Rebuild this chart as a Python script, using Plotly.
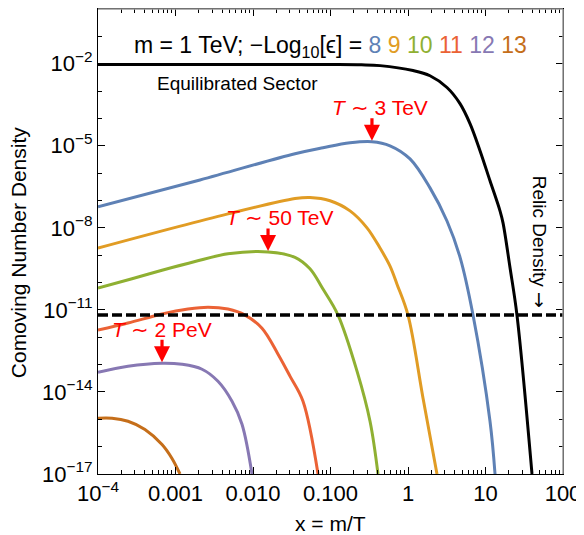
import numpy as np
import plotly.graph_objects as go

# ---- data (log10 values) ----
eq_log10x = [-4.0, -3.0, -2.0, -1.0, -0.6, -0.36, 0.065, 0.284, 0.503, 0.671, 0.800, 0.929, 1.058, 1.187, 1.226, 1.316, 1.406, 1.600]
eq_log10y = [-2.03, -2.03, -2.03, -2.03, -2.04, -2.07, -2.25, -2.44, -2.87, -3.46, -4.19, -5.18, -6.28, -7.38, -7.82, -9.45, -11.19, -17.0]

e8_log10x = [-4.0, -2.684, -1.458, -1.097, -0.748, -0.465, -0.232, 0.026, 0.284, 0.503, 0.671, 0.839, 1.058, 1.123]
e8_log10y = [-7.23, -6.25, -5.29, -5.07, -4.89, -4.85, -5.00, -5.48, -6.54, -7.75, -9.07, -11.19, -15.07, -17.0]

e9_log10x = [-4.0, -2.323, -1.458, -1.265, -1.006, -0.748, -0.529, -0.361, -0.232, -0.142, 0.0, 0.194, 0.374]
e9_log10y = [-8.74, -7.49, -6.93, -6.89, -7.01, -7.38, -8.00, -8.74, -9.40, -10.06, -11.19, -14.23, -17.0]

e10_log10x = [-4.0, -3.561, -3.174, -2.748, -2.323, -1.806, -1.458, -1.265, -1.097, -0.903, -0.658, -0.490, -0.387]
e10_log10y = [-10.20, -9.86, -9.55, -9.23, -8.95, -8.88, -9.08, -9.50, -10.24, -11.19, -13.24, -15.07, -17.0]

e11_log10x = [-4.0, -3.613, -3.174, -2.839, -2.581, -2.323, -2.103, -1.884, -1.677, -1.523, -1.355, -1.161]
e11_log10y = [-11.74, -11.48, -11.15, -10.97, -10.90, -10.97, -11.19, -11.67, -12.62, -13.42, -14.34, -17.0]

e12_log10x = [-4.0, -3.613, -3.174, -2.916, -2.658, -2.452, -2.271, -2.142, -2.013]
e12_log10y = [-13.28, -13.06, -12.95, -12.99, -13.17, -13.61, -14.34, -15.18, -17.0]

e13_log10x = [-4.0, -3.819, -3.613, -3.394, -3.174, -3.045, -2.942]
e13_log10y = [-14.96, -14.96, -15.07, -15.37, -15.92, -16.43, -17.0]

relic_log10y = -11.19

series_names = ["8", "9", "10", "11", "12", "13"]
series_colors = ["#5E81B5", "#E19C24", "#8FB032", "#EB6235", "#8778B3", "#C56E1A"]
series_x = [e8_log10x, e9_log10x, e10_log10x, e11_log10x, e12_log10x, e13_log10x]
series_y = [e8_log10y, e9_log10y, e10_log10y, e11_log10y, e12_log10y, e13_log10y]

x_tickvals = [1e-4, 1e-3, 1e-2, 1e-1, 1, 10, 100]
x_ticktext = ["10<sup>−4</sup>", "0.001", "0.010", "0.100", "1", "10", "100"]
y_tick_exps = [-17, -14, -11, -8, -5, -2]

peak_labels = {"8": "<i>T</i> ∼ 3 TeV", "10": "<i>T</i> ∼ 50 TeV", "12": "<i>T</i> ∼ 2 PeV"}
peak_label_xshift = {"8": 8, "10": 12, "12": 0}

FONT = "Liberation Sans, Arial, sans-serif"
SMOOTH = 1.0

fig = go.Figure()

fig.add_trace(go.Scatter(
    x=10 ** np.array(eq_log10x), y=10 ** np.array(eq_log10y),
    mode="lines", line=dict(color="black", width=3, shape="spline", smoothing=SMOOTH),
    showlegend=False, hoverinfo="skip"))

for name, col, lx, ly in zip(series_names, series_colors, series_x, series_y):
    fig.add_trace(go.Scatter(
        x=10 ** np.array(lx), y=10 ** np.array(ly),
        mode="lines", line=dict(color=col, width=3, shape="spline", smoothing=SMOOTH),
        showlegend=False, hoverinfo="skip"))

fig.add_hline(y=10 ** relic_log10y, line=dict(color="black", width=3.5, dash="10px,4px"))

# arrows and T labels at peaks (log axes: annotation coords are log10 values)
for name, lx, ly in zip(series_names, series_x, series_y):
    if name not in peak_labels:
        continue
    i = int(np.argmax(ly))
    fig.add_annotation(x=lx[i], y=ly[i], xref="x", yref="y", text="", showarrow=True,
                       ax=0, ay=-25, arrowhead=2, arrowsize=1.0, arrowwidth=3.2,
                       arrowcolor="#FF0000", standoff=1)
    fig.add_annotation(x=lx[i], y=ly[i], xref="x", yref="y", text=peak_labels[name],
                       showarrow=False, yshift=34, xshift=peak_label_xshift[name],
                       xanchor="center", yanchor="middle",
                       font=dict(family=FONT, size=21, color="#FF0000"))

title_html = "m = 1 TeV; −Log<sub>10</sub>[ϵ] = " + " ".join(
    f'<span style="color:{c}">{n}</span>' for n, c in zip(series_names, series_colors))
common = dict(xref="paper", yref="paper", showarrow=False, xanchor="center", yanchor="middle")
fig.add_annotation(x=0.499, y=0.919, text=title_html,
                   font=dict(family=FONT, size=23, color="black"), **common)
fig.add_annotation(x=0.299, y=0.84, text="Equilibrated Sector",
                   font=dict(family=FONT, size=19, color="black"), **common)
fig.add_annotation(x=0.952, y=0.50,
                   text='Relic Density <span style="font-family:DejaVu Sans">→</span>', textangle=90,
                   font=dict(family=FONT, size=19, color="black"), **common)
fig.add_annotation(x=-0.172, y=0.475, text="Comoving Number Density", textangle=-90,
                   font=dict(family=FONT, size=21, color="black"), **common)
fig.add_annotation(x=0.499, y=-0.106, text="x = m/T",
                   font=dict(family=FONT, size=21, color="black"), **common)

x_minor = [m * 10.0 ** e for e in range(-4, 2) for m in range(2, 10)]
y_minor = [10.0 ** e for e in range(-17, 1)]

fig.update_xaxes(type="log", range=[-4, 2], tickvals=x_tickvals, ticktext=x_ticktext,
                 ticks="inside", ticklen=7, tickwidth=1, tickcolor="black", automargin=False,
                 showline=True, linecolor="black", linewidth=1, mirror="allticks",
                 showgrid=False, zeroline=False,
                 minor=dict(tickvals=x_minor, ticks="inside", ticklen=4, tickcolor="black", showgrid=False),
                 tickfont=dict(family=FONT, size=22, color="black"))
fig.update_yaxes(type="log", range=[-17, 0],
                 tickvals=[10.0 ** e for e in y_tick_exps],
                 ticktext=[f"10<sup>−{-e}</sup>" for e in y_tick_exps],
                 ticks="inside", ticklen=7, tickwidth=1, tickcolor="black", automargin=False,
                 showline=True, linecolor="black", linewidth=1, mirror="allticks",
                 showgrid=False, zeroline=False,
                 minor=dict(tickvals=y_minor, ticks="inside", ticklen=4, tickcolor="black", showgrid=False),
                 tickfont=dict(family=FONT, size=22, color="black"))

# gray top/right frame
fig.add_shape(type="line", xref="paper", yref="paper", x0=0, x1=1, y0=1, y1=1,
              line=dict(color="#999999", width=1.5))
fig.add_shape(type="line", xref="paper", yref="paper", x0=1, x1=1, y0=0, y1=1,
              line=dict(color="#999999", width=1.5))

# the page body has an 8px margin, so the figure is sized/offset to compensate
fig.update_layout(width=576, height=527, margin=dict(l=90, r=21, t=1, b=61, autoexpand=False),
                  plot_bgcolor="white", paper_bgcolor="white",
                  font=dict(family=FONT, color="black"))

fig.write_html("out.html")
